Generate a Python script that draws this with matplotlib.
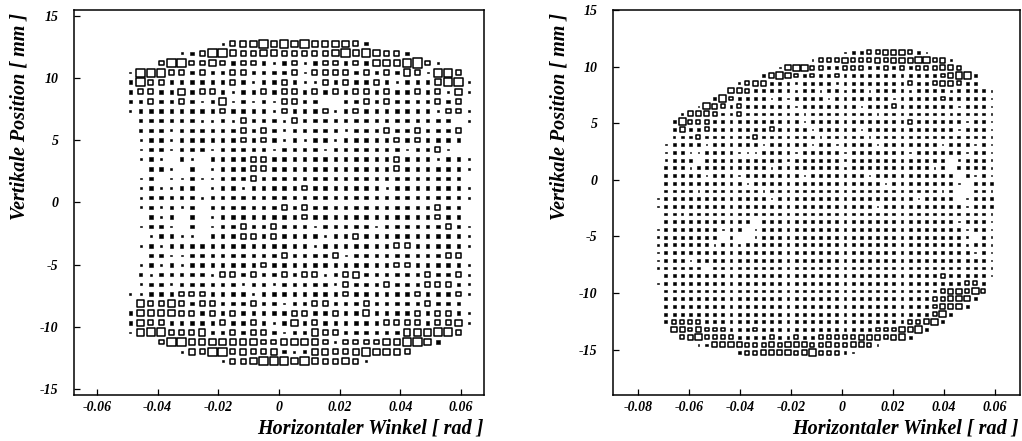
import numpy as np
import matplotlib
matplotlib.use("Agg")
import matplotlib.pyplot as plt
from matplotlib.patches import Rectangle
from matplotlib.collections import PatchCollection

# ---------------------------------------------------------------------------
# Box-histogram contents, one digit per bin (0 = empty bin, 1..6 = box class).
# Rows run from the top row of the occupied region downwards.
# ---------------------------------------------------------------------------

# Left panel: 40 x 40 bins, x in [-0.0675, 0.0675] rad, y in [-15.5, 15.5] mm
LEFT_X_RANGE = (-0.0675, 0.0675)
LEFT_Y_RANGE = (-15.5, 15.5)
LEFT_NBINS = (40, 40)
LEFT_FIRST_COL = 5
LEFT_TOP_ROW = 36
LEFT_ROWS = [
    "000000000" "134454545444432" "0000000000",
    "00000" "12355433443333345454332" "000000",
    "000" "3553343233" "2123123323" "24445631" "000",
    "1555332322" "3322223133" "3323232431" "5530",
    "2533222222" "3212232113" "2322321222" "4551",
    "2332242332" "1223233232" "3233232232" "3141",
    "2232232124" "1212133220" "0223232222" "3230",
    "1222222223" "2222132223" "1232222222" "1331",
    "0222222112" "1322213222" "2222222222" "2201",
    "0222122222" "2323212222" "2122232232" "2230",
    "0122122222" "2323212122" "1222223232" "2220",
    "0122122212" "2222122221" "2222222122" "3100",
    "0121021022" "2233222222" "2222223222" "1221",
    "0022102012" "2233222222" "2222223222" "2221",
    "0120112112" "2232222222" "2222222222" "2220",
    "0121122012" "2122222322" "2222212222" "2221",
    "0122222122" "2222222222" "2222222222" "2221",
    "0121212022" "2222232322" "2222222222" "3220",
    "0021202012" "2222222322" "2222222222" "3220",
    "0122102012" "2322322212" "2222122222" "2321",
    "0012211022" "2332322221" "2232222222" "2221",
    "0121222222" "2222222212" "2222223322" "2221",
    "0022112222" "2222232222" "3122222222" "2330",
    "0121212222" "2223222222" "2222223322" "2221",
    "0212222213" "3232232331" "2342222223" "2231",
    "0122122222" "2122122222" "1322232223" "3321",
    "1122233322" "2212222222" "2322222232" "2231",
    "0433432332" "2232212233" "2223222223" "2220",
    "2444433232" "3222223322" "3224222232" "3321",
    "2433222223" "2232124232" "2222233332" "3341",
    "1455333422" "3233212243" "3222222444" "5530",
    "000" "3554444444" "3344443133" "33445542" "000",
    "00000" "1435534334" "2124433454" "443" "000000",
    "000000000" "133455545433431" "0000000000",
]

# Right panel: 50 x 50 bins, x in [-0.09, 0.07] rad, y in [-19, 15] mm
RIGHT_X_RANGE = (-0.09, 0.07)
RIGHT_Y_RANGE = (-19.0, 15.0)
RIGHT_NBINS = (50, 50)
RIGHT_FIRST_COL = 5
RIGHT_TOP_ROW = 44
RIGHT_ROWS = [
    "00000000000000000000000" "12233444321" "00000000",
    "0000000000000000000" "133343334344455341" "00000",
    "000000000000000" "14553322333223232333443" "0000",
    "0000000000000" "2454323223" "2222222222" "2234552" "00",
    "0000000000" "1344222122" "2212222222" "2322344322" "00",
    "000000000" "4432222212" "2122122122" "2212222122" "221",
    "0000000" "2532222121" "2222122222" "2212222232" "22221",
    "00000" "1543232222" "2212222222" "1222322222" "2212221",
    "000" "1444322322" "2222212222" "2222122222" "222122221",
    "00" "2533322222" "2222221222" "2222222223" "2222221221",
    "00" "2422322222" "2232222122" "2221222222" "2222212221",
    "00" "1223222222" "3222222212" "2222122222" "2222222221",
    "0" "1222212222" "2212222212" "2122221222" "2222122212" "1",
    "0" "1221122221" "1122221222" "2212222222" "1222222122" "1",
    "0" "1222022222" "2222212222" "2212222222" "2222201222" "1",
    "0" "2221222222" "2221222222" "2212222222" "2221202222" "1",
    "0" "2222212221" "2222222122" "2222212222" "2222220212" "1",
    "0" "2222222222" "1222222222" "2222222122" "2222221022" "2",
    "0" "2222122222" "2212222222" "2222222222" "2222120022" "1",
    "1222222222" "2222122222" "2222222222" "2212222012" "22",
    "1222222222" "2222222222" "2222222122" "2222222212" "22",
    "0221222222" "2222222222" "2222222222" "2222222222" "21",
    "0222222222" "2202222222" "2222222222" "2222222122" "21",
    "1222222212" "2012222222" "2222222222" "2222222212" "21",
    "1222222202" "0012222222" "2222222222" "2222222210" "21",
    "1222222122" "1222222222" "2222222222" "2222222212" "21",
    "1222222222" "2222222222" "2222222222" "2222222221" "21",
    "1222122222" "2222222222" "2222222222" "2222222222" "21",
    "1222220222" "2222222222" "2222222222" "2222222222" "21",
    "0222222222" "2222222222" "2222222222" "2222232222" "21",
    "1222222222" "2222222222" "2222222222" "2222222233" "20",
    "0222222222" "2222222222" "2222222222" "2222234435" "30",
    "0222222222" "2222222222" "2222222222" "2222334442" "00",
    "0222222222" "2222222222" "2222222222" "2222344420" "00",
    "0222222222" "2222222222" "2222222222" "2222352000" "00",
    "0233332222" "2222222222" "2222222222" "2334520000" "00",
    "00" "4434333222" "3222222222" "2222233344" "52" "00000000",
    "000" "3453333222" "2322322333" "334443452" "0000000000",
    "00000" "1244443334" "3444334334" "431" "00000000000000",
    "0000000000" "233444434533321" "00000000000000000",
]

LEFT_XTICKS = [-0.06, -0.04, -0.02, 0.0, 0.02, 0.04, 0.06]
LEFT_XTICKLABELS = ["-0.06", "-0.04", "-0.02", "0", "0.02", "0.04", "0.06"]
RIGHT_XTICKS = [-0.08, -0.06, -0.04, -0.02, 0.0, 0.02, 0.04, 0.06]
RIGHT_XTICKLABELS = ["-0.08", "-0.06", "-0.04", "-0.02", "0", "0.02", "0.04", "0.06"]
YTICKS = [-15, -10, -5, 0, 5, 10, 15]
YTICKLABELS = ["-15", "-10", "-5", "0", "5", "10", "15"]

XLABEL = "Horizontaler Winkel [ rad ]"
YLABEL = "Vertikale Position [ mm ]"

# relative box edge (fraction of the bin) for each class
BOX_FRACTION = {1: 0.18, 2: 0.36, 3: 0.49, 4: 0.64, 5: 0.84, 6: 0.95}

FONT = dict(family="Liberation Serif", weight="bold", style="italic")


def draw_boxes(ax, rows, xrange_, yrange_, nbins, first_col, top_row):
    xedges = np.linspace(xrange_[0], xrange_[1], nbins[0] + 1)
    yedges = np.linspace(yrange_[0], yrange_[1], nbins[1] + 1)
    filled, hollow = [], []
    for r, row in enumerate(rows):
        j = top_row - r
        cy = 0.5 * (yedges[j] + yedges[j + 1])
        dy = yedges[j + 1] - yedges[j]
        for k, ch in enumerate(row):
            code = int(ch)
            if code == 0:
                continue
            i = first_col + k
            cx = 0.5 * (xedges[i] + xedges[i + 1])
            dx = xedges[i + 1] - xedges[i]
            f = BOX_FRACTION[code]
            rect = Rectangle((cx - 0.5 * f * dx, cy - 0.5 * f * dy), f * dx, f * dy)
            (filled if code <= 2 else hollow).append(rect)
    ax.add_collection(PatchCollection(filled, facecolor="black", edgecolor="black",
                                      linewidth=0.4))
    ax.add_collection(PatchCollection(hollow, facecolor="none", edgecolor="black",
                                      linewidth=1.1))
    ax.set_xlim(*xrange_)
    ax.set_ylim(*yrange_)


def style_axes(ax, xticks, xticklabels):
    ax.set_xticks(xticks)
    ax.set_xticklabels(xticklabels, fontdict=dict(size=10, **FONT))
    ax.set_yticks(YTICKS)
    ax.set_yticklabels(YTICKLABELS, fontdict=dict(size=10, **FONT))
    ax.tick_params(direction="in", length=4, width=0.9, top=False, right=False)
    ax.tick_params(axis="x", pad=4)
    ax.tick_params(axis="y", pad=11)
    for sp in ax.spines.values():
        sp.set_linewidth(1.1)


W, H = 1022, 441
fig = plt.figure(figsize=(W / 100, H / 100), dpi=100)

axL = fig.add_axes([74 / W, 1 - 395 / H, 410 / W, 385 / H])
draw_boxes(axL, LEFT_ROWS, LEFT_X_RANGE, LEFT_Y_RANGE, LEFT_NBINS,
           LEFT_FIRST_COL, LEFT_TOP_ROW)
style_axes(axL, LEFT_XTICKS, LEFT_XTICKLABELS)

axR = fig.add_axes([613 / W, 1 - 395 / H, 407 / W, 385 / H])
draw_boxes(axR, RIGHT_ROWS, RIGHT_X_RANGE, RIGHT_Y_RANGE, RIGHT_NBINS,
           RIGHT_FIRST_COL, RIGHT_TOP_ROW)
style_axes(axR, RIGHT_XTICKS, RIGHT_XTICKLABELS)

fig.text(20 / W, 1 - 13 / H, YLABEL, rotation=90, ha="center", va="top",
         size=14.5, **FONT)
fig.text(484 / W, 1 - 428 / H, XLABEL, ha="right", va="center", size=14.5, **FONT)
fig.text(559 / W, 1 - 13 / H, YLABEL, rotation=90, ha="center", va="top",
         size=14.5, **FONT)
fig.text(1019 / W, 1 - 428 / H, XLABEL, ha="right", va="center", size=14.5, **FONT)

fig.savefig("out.png", dpi=100)
